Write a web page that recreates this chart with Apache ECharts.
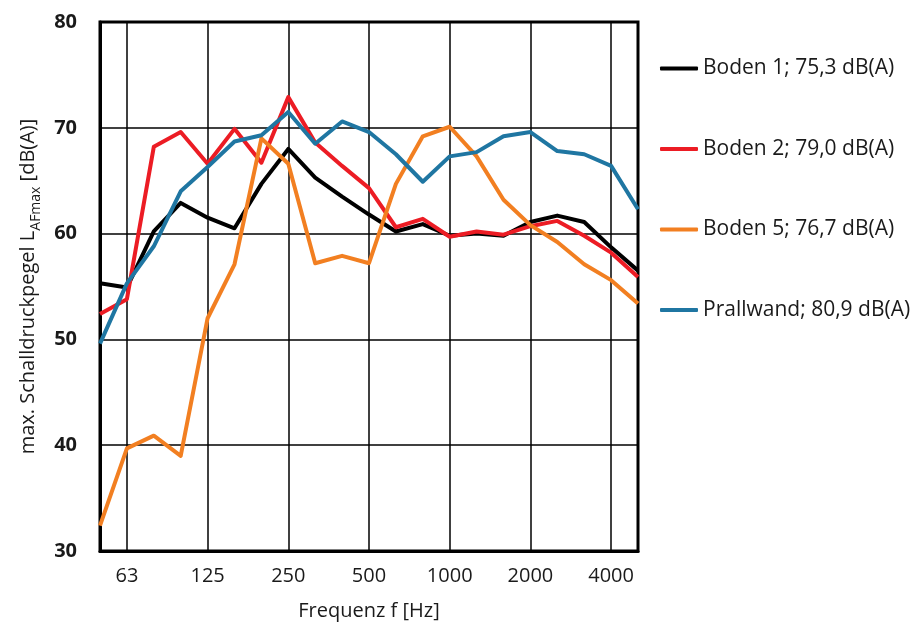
<!DOCTYPE html>
<html>
<head>
<meta charset="utf-8">
<style>
  html, body { margin: 0; padding: 0; background: #fff; }
  #chart { width: 921px; height: 626px; }
</style>
<script src="https://cdn.jsdelivr.net/npm/echarts@6/dist/echarts.min.js"></script>
</head>
<body>
<div id="chart"></div>
<script>
// Third-octave band centre frequencies [Hz]
const frequencies = ['50', '63', '80', '100', '125', '160', '200', '250', '315', '400', '500',
  '630', '800', '1000', '1250', '1600', '2000', '2500', '3150', '4000', '5000'];

// Octave bands that get a label and a vertical grid line
const octaveTicks = ['63', '125', '250', '500', '1000', '2000', '4000'];

// Maximum sound pressure level L_AFmax per band [dB(A)]
const boden1 = [55.3, 54.9, 60.2, 62.9, 61.5, 60.5, 64.7, 68.0, 65.3, 63.5, 61.8,
  60.2, 60.9, 59.8, 60.0, 59.8, 61.1, 61.7, 61.1, 58.7, 56.5];
const boden2 = [52.4, 53.8, 68.2, 69.6, 66.6, 69.9, 66.7, 72.9, 68.6, 66.4, 64.3,
  60.6, 61.4, 59.7, 60.2, 59.9, 60.7, 61.2, 59.8, 58.2, 55.9];
const boden5 = [32.4, 39.7, 40.9, 39.0, 52.0, 57.1, 69.0, 66.6, 57.2, 57.9, 57.2,
  64.7, 69.2, 70.1, 67.3, 63.2, 60.8, 59.2, 57.1, 55.6, 53.4];
const prallwand = [49.6, 55.3, 58.8, 64.0, 66.3, 68.7, 69.3, 71.5, 68.5, 70.6, 69.6,
  67.5, 64.9, 67.3, 67.7, 69.2, 69.6, 67.8, 67.5, 66.4, 62.3];

const seriesNames = ['Boden 1; 75,3 dB(A)', 'Boden 2; 79,0 dB(A)', 'Boden 5; 76,7 dB(A)', 'Prallwand; 80,9 dB(A)'];
const seriesColors = ['#000000', '#ec1c24', '#f27f21', '#1f76a2'];
const seriesData = [boden1, boden2, boden5, prallwand];

const FONT = '"Open Sans", "Noto Sans", sans-serif';
const TEXT = '#1a1a1a';
const isOctave = (idx, val) => octaveTicks.indexOf(String(val)) !== -1 || octaveTicks.indexOf(frequencies[idx]) !== -1;

const chart = echarts.init(document.getElementById('chart'), null, { renderer: 'canvas' });

chart.setOption({
  backgroundColor: '#ffffff',
  animation: false,
  textStyle: { fontFamily: FONT },
  grid: {
    left: 100, right: 283, top: 22, bottom: 73,
    show: true, borderColor: '#000', borderWidth: 3, backgroundColor: 'transparent'
  },
  legend: {
    orient: 'vertical',
    left: 660, top: 58, padding: 0,
    itemWidth: 38, itemHeight: 4, itemGap: 59.5,
    icon: 'roundRect',
    textStyle: { fontFamily: FONT, fontSize: 21, color: TEXT },
    data: seriesNames
  },
  xAxis: {
    type: 'category',
    data: frequencies,
    boundaryGap: false,
    name: 'Frequenz f [Hz]',
    nameLocation: 'middle',
    nameGap: 50,
    nameTextStyle: { fontFamily: FONT, fontSize: 20, color: TEXT },
    axisLine: { show: true, lineStyle: { color: '#000', width: 3 } },
    axisTick: { show: false },
    axisLabel: {
      interval: isOctave,
      margin: 15,
      fontFamily: FONT, fontSize: 20, color: TEXT
    },
    splitLine: { show: true, interval: isOctave, lineStyle: { color: '#000', width: 1.5 } }
  },
  yAxis: {
    type: 'value',
    min: 30, max: 80, interval: 10,
    name: '{n|max. Schalldruckpegel L}{s|AFmax}{n| [dB(A)]}',
    nameLocation: 'middle',
    nameRotate: 90,
    nameGap: 62,
    nameTextStyle: {
      rich: {
        n: { fontFamily: FONT, fontSize: 20, color: TEXT, verticalAlign: 'bottom', lineHeight: 24 },
        s: { fontFamily: FONT, fontSize: 14, color: TEXT, verticalAlign: 'bottom', lineHeight: 16, padding: [0, 0, -5, 0] }
      }
    },
    axisLine: { show: true, lineStyle: { color: '#000', width: 3 } },
    axisTick: { show: false },
    axisLabel: { margin: 23, fontFamily: FONT, fontSize: 20, fontWeight: 'bold', color: TEXT },
    splitLine: { show: true, lineStyle: { color: '#000', width: 1.5 } }
  },
  series: seriesData.map((d, i) => ({
    name: seriesNames[i],
    type: 'line',
    data: d,
    symbol: 'none',
    color: seriesColors[i],
    lineStyle: { width: 4, color: seriesColors[i], join: 'round' },
    z: 3 + i
  }))
});
</script>
</body>
</html>
